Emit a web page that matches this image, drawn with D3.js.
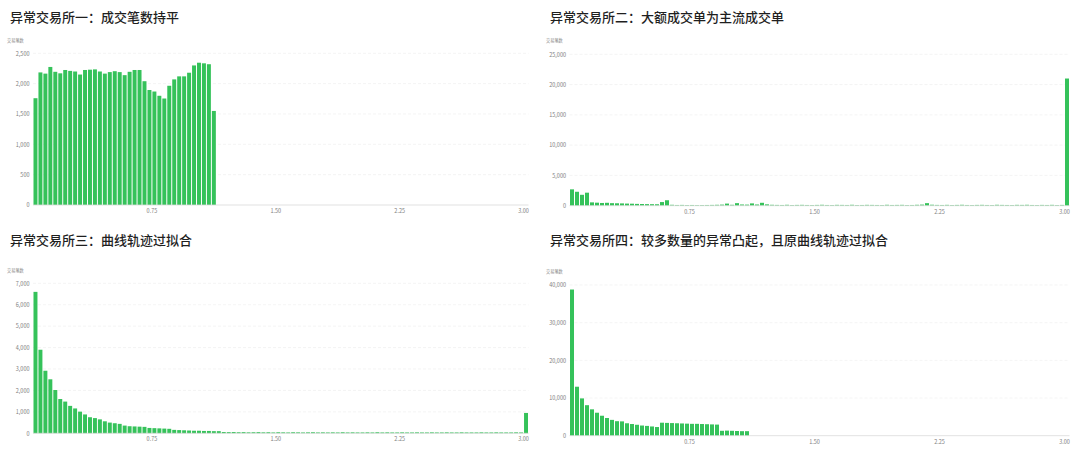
<!DOCTYPE html>
<html lang="zh">
<head>
<meta charset="UTF-8">
<title>异常交易所成交分布</title>
<script src="https://d3js.org/d3.v7.min.js"></script>
<style>
  body { margin: 0; background: #fff; font-family: "Noto Sans CJK SC", "Noto Sans", sans-serif; }
  svg text { font-family: "Noto Sans CJK SC", "Noto Sans", sans-serif; }
</style>
</head>
<body>
<script>
// bins: upper edge of each 0.03 wide bucket, 0.03 .. 3.00
const bins = d3.range(100).map(i => (0.03 * (i + 1)).toFixed(2));
const xTickLabels = ["0.75", "1.50", "2.25", "3.00"];

const titles = [
  "异常交易所一：成交笔数持平",
  "异常交易所二：大额成交单为主流成交单",
  "异常交易所三：曲线轨迹过拟合",
  "异常交易所四：较多数量的异常凸起，且原曲线轨迹过拟合"
];
const yTitle = "交易笔数";

// exchange 1 – only the first 37 buckets have trades
const counts1 = [
  1760, 2185, 2165, 2275, 2195, 2170, 2225, 2210, 2200, 2150, 2225, 2230, 2235,
  2200, 2165, 2190, 2205, 2190, 2140, 2195, 2225, 2225, 2040, 1895, 1870, 1800,
  1755, 1965, 2070, 2120, 2120, 2180, 2300, 2345, 2335, 2320, 1550
];

// exchange 2 – huge spike in the last bucket
const counts2 = [
  2700, 2300, 1800, 2150, 550, 500, 450, 480, 420, 400, 380, 350, 330, 300, 280, 260, 250, 240, 600, 900,
  150, 120, 130, 110, 120, 100, 110, 120, 130, 150, 180, 350, 150, 420, 200, 180, 380, 200, 480, 220,
  150, 130, 120, 150, 110, 130, 140, 120, 110, 130, 150, 120, 110, 140, 130, 120, 150, 110, 120, 140,
  130, 120, 110, 150, 120, 130, 140, 110, 120, 150, 180, 420, 160, 130, 120, 140, 110, 130, 150, 120,
  110, 130, 140, 120, 110, 150, 130, 120, 110, 140, 130, 150, 120, 110, 130, 120, 140, 110, 130, 21000
];

// exchange 3 – smooth decay plus a bump at 3.00
const counts3 = [
  6600, 3900, 2920, 2520, 2020, 1600, 1480, 1280, 1160, 1010, 880, 750, 710, 650, 560, 500, 470, 440, 360, 330,
  320, 310, 300, 250, 240, 230, 220, 210, 160, 150, 140, 130, 120, 120, 110, 110, 100, 100, 60, 55,
  60, 50, 55, 45, 50, 55, 45, 50, 40, 50, 45, 40, 50, 45, 40, 45, 50, 40, 45, 40,
  45, 40, 50, 40, 45, 40, 40, 45, 40, 50, 40, 45, 40, 40, 45, 40, 40, 45, 40, 40,
  45, 40, 40, 45, 40, 40, 45, 40, 40, 40, 45, 40, 40, 45, 40, 40, 40, 45, 40, 950
];

// exchange 4 – 36 buckets, with a raised step in the middle
const counts4 = [
  38800, 13000, 9900, 8100, 7000, 6100, 5300, 4700, 4200, 3850, 3800, 3300, 3100, 2900, 2700, 2600, 2450, 2300,
  3450, 3400, 3350, 3300, 3250, 3200, 3150, 3150, 3100, 3050, 3000, 2950,
  1300, 1350, 1300, 1250, 1200, 1200
];

const yTicks1 = [0, 500, 1000, 1500, 2000, 2500];
const yTicks2 = [0, 5000, 10000, 15000, 20000, 25000];
const yTicks3 = [0, 1000, 2000, 3000, 4000, 5000, 6000, 7000];
const yTicks4 = [0, 10000, 20000, 30000, 40000];

const W = 1080, H = 453;
const svg = d3.select("body").append("svg").attr("width", W).attr("height", H);

const panels = [
  { title: titles[0], data: counts1, ticks: yTicks1, xr: [33, 528.5], yr: [205, 53.3], tx: 10, ty: 22, yt: [7, 41.5] },
  { title: titles[1], data: counts2, ticks: yTicks2, xr: [569.5, 1069.5], yr: [205.7, 54.3], tx: 550, ty: 22, yt: [546, 41.5] },
  { title: titles[2], data: counts3, ticks: yTicks3, xr: [33, 528.5], yr: [433.3, 283.3], tx: 10, ty: 245, yt: [7, 271.5] },
  { title: titles[3], data: counts4, ticks: yTicks4, xr: [569.5, 1069.5], yr: [435.7, 285], tx: 550, ty: 245, yt: [546, 273] }
];

panels.forEach(p => {
  const g = svg.append("g");

  const x = d3.scaleBand().domain(bins).range(p.xr).padding(0);
  const y = d3.scaleLinear().domain([0, d3.max(p.ticks)]).range(p.yr);
  const bw = x.bandwidth();

  g.append("text")
    .attr("x", p.tx).attr("y", p.ty)
    .attr("font-size", 13).attr("font-weight", 500).attr("fill", "#1f1f1f")
    .text(p.title);

  g.append("text")
    .attr("x", p.yt[0]).attr("y", p.yt[1])
    .attr("font-size", 4.2).attr("fill", "#8c8c8c")
    .text(yTitle);

  // grid
  g.append("g").selectAll("line")
    .data(p.ticks.filter(t => t > 0))
    .join("line")
    .attr("x1", p.xr[0]).attr("x2", p.xr[1])
    .attr("y1", d => y(d)).attr("y2", d => y(d))
    .attr("stroke", "#ececec").attr("stroke-width", 0.6)
    .attr("stroke-dasharray", "3,2");

  // y axis labels
  const ya = g.append("g")
    .attr("transform", `translate(${p.xr[0]},0)`)
    .call(d3.axisLeft(y).tickValues(p.ticks).tickFormat(d3.format(",")).tickSize(0).tickPadding(3.5));
  ya.select(".domain").remove();
  ya.selectAll("text").attr("font-size", 5.5).attr("fill", "#808080");

  // bars
  g.append("g").selectAll("rect")
    .data(p.data)
    .join("rect")
    .attr("x", (d, i) => x(bins[i]) + bw * 0.1)
    .attr("width", bw * 0.8)
    .attr("y", d => y(d))
    .attr("height", d => y(0) - y(d))
    .attr("fill", "#35c25a");

  // baseline
  g.append("line")
    .attr("x1", p.xr[0]).attr("x2", p.xr[1])
    .attr("y1", y(0)).attr("y2", y(0))
    .attr("stroke", "#d9d9d9").attr("stroke-width", 0.8);

  // x axis labels sit at the left edge of their bucket
  const xa = g.append("g")
    .attr("transform", `translate(${-bw / 2},${y(0)})`)
    .call(d3.axisBottom(x).tickValues(xTickLabels).tickSize(0).tickPadding(4));
  xa.select(".domain").remove();
  xa.selectAll("text").attr("font-size", 5.5).attr("fill", "#808080");
});
</script>
</body>
</html>
